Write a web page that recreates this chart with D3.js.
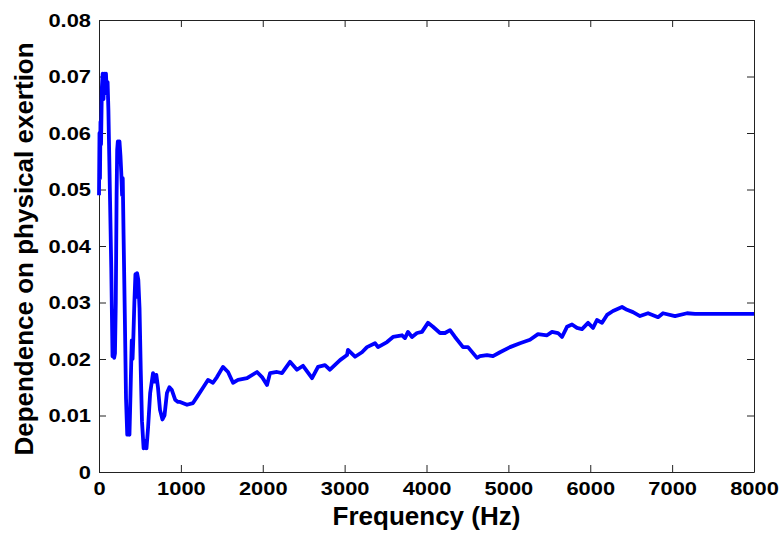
<!DOCTYPE html>
<html>
<head>
<meta charset="utf-8">
<script src="https://cdn.jsdelivr.net/npm/d3@7"></script>
<style>
  body { margin: 0; background: #fff; }
  .axis path, .axis line { stroke: #222; }
  .axis text { font-family: "Liberation Sans", Arial, sans-serif; font-weight: bold; font-size: 19px; fill: #000; }
  .label { font-family: "Liberation Sans", Arial, sans-serif; font-weight: bold; font-size: 26px; fill: #000; }
</style>
</head>
<body>
<script>
//frequency values (Hz)
var freq = [0, 6, 12, 18, 25, 35, 45, 55, 65, 75, 85, 95, 105, 115, 125, 135, 150, 165, 175, 185,
    195, 205, 215, 222, 230, 240, 250, 262, 272, 282, 290, 300, 315, 330, 345, 360, 372, 385, 400, 410,
    420, 432, 445, 455, 465, 480, 495, 510, 525, 545, 560, 580, 600, 625, 660, 680, 700, 720, 745, 775,
    800, 830, 860, 890, 930, 965,
    990, 1075, 1148, 1197, 1270, 1331, 1392, 1441, 1514, 1576, 1637, 1698, 1808, 1930, 1991, 2052, 2089, 2174, 2235, 2333,
    2418, 2492, 2602, 2675, 2760, 2821, 2944, 3029, 3041, 3127, 3212, 3273, 3371, 3408, 3518, 3591, 3701, 3737, 3774, 3823,
    3884, 3945, 4018, 4079, 4165, 4226, 4287, 4348, 4446, 4507, 4617, 4653, 4739, 4812, 4898, 5020, 5142, 5264, 5362, 5472,
    5533, 5606, 5655, 5716, 5777, 5838, 5899, 5973, 6034, 6082, 6144, 6205, 6278, 6388, 6449, 6522, 6608, 6706, 6828, 6889,
    7035, 7182, 7280, 8000];

//dependence on physical exertion
var dep = [0.049, 0.060, 0.052, 0.062, 0.058, 0.068, 0.0705, 0.066, 0.0705, 0.069, 0.0705, 0.067, 0.069, 0.064, 0.056, 0.048, 0.036, 0.0205, 0.0215, 0.0202,
    0.021, 0.030, 0.049, 0.057, 0.0585, 0.055, 0.0585, 0.056, 0.053, 0.049, 0.052, 0.042, 0.028, 0.013, 0.0066, 0.0075, 0.0066, 0.014, 0.0233, 0.020,
    0.024, 0.030, 0.035, 0.031, 0.0352, 0.034, 0.029, 0.018, 0.009, 0.0042, 0.0055, 0.0042, 0.008, 0.014, 0.0175, 0.0160, 0.0172, 0.0150, 0.011, 0.0093,
    0.0100, 0.0140, 0.0150, 0.0145, 0.0128, 0.0124,
    0.0124, 0.0119, 0.0122, 0.0133, 0.0149, 0.0163, 0.0158, 0.0168, 0.0186, 0.0177, 0.0158, 0.0163, 0.0166, 0.0177, 0.0168, 0.0154, 0.0175, 0.0177, 0.0175, 0.0195,
    0.0181, 0.0188, 0.0166, 0.0186, 0.0189, 0.0181, 0.0198, 0.0207, 0.0216, 0.0204, 0.0212, 0.0221, 0.0228, 0.0221, 0.0230, 0.0239, 0.0242, 0.0237, 0.0248, 0.0239,
    0.0246, 0.0248, 0.0264, 0.0257, 0.0246, 0.0246, 0.0251, 0.0239, 0.0221, 0.0221, 0.0202, 0.0205, 0.0207, 0.0205, 0.0212, 0.0221, 0.0228, 0.0234, 0.0244, 0.0242,
    0.0248, 0.0246, 0.0239, 0.0257, 0.0261, 0.0255, 0.0253, 0.0264, 0.0255, 0.0269, 0.0264, 0.0278, 0.0285, 0.0292, 0.0287, 0.0283, 0.0276, 0.0281, 0.0274, 0.0281,
    0.0276, 0.0281, 0.0280, 0.0280];

var xTicks = [0, 1000, 2000, 3000, 4000, 5000, 6000, 7000, 8000];
var yTicks = [0, 0.01, 0.02, 0.03, 0.04, 0.05, 0.06, 0.07, 0.08];

var width = 782,
    height = 533;
var margin = {top: 20, right: 28, bottom: 61, left: 99};
var w = width - margin.left - margin.right,
    h = height - margin.top - margin.bottom;

var svg = d3.select("body")
    .append("svg")
    .attr("width", width)
    .attr("height", height);

var g = svg.append("g")
    .attr("transform", "translate(" + margin.left + "," + margin.top + ")");

var x = d3.scaleLinear().domain([0, 8000]).range([0, w]);
var y = d3.scaleLinear().domain([0, 0.08]).range([h, 0]);

var fmtY = function(d){ return d === 0 ? "0" : d.toFixed(2); };

//box with inward ticks, like matlab
g.append("g")
    .attr("class", "axis")
    .attr("transform", "translate(0," + h + ")")
    .call(d3.axisBottom(x).tickValues(xTicks).tickSizeInner(-7).tickSizeOuter(0).tickPadding(10).tickFormat(d3.format("d")))
    .selectAll("text")
    .attr("transform", "scale(1.15,1)");

g.append("g")
    .attr("class", "axis")
    .call(d3.axisTop(x).tickValues(xTicks).tickSizeInner(-7).tickSizeOuter(0).tickFormat(""));

g.append("g")
    .attr("class", "axis")
    .call(d3.axisLeft(y).tickValues(yTicks).tickSizeInner(-7).tickSizeOuter(0).tickPadding(7).tickFormat(fmtY))
    .selectAll("text")
    .attr("transform", "scale(1.15,1)");

g.append("g")
    .attr("class", "axis")
    .attr("transform", "translate(" + w + ",0)")
    .call(d3.axisRight(y).tickValues(yTicks).tickSizeInner(-7).tickSizeOuter(0).tickFormat(""));

//the curve
var line = d3.line()
    .x(function(d, i){ return x(freq[i]); })
    .y(function(d){ return y(d); });

g.append("path")
    .datum(dep)
    .attr("fill", "none")
    .attr("stroke", "#0000ff")
    .attr("stroke-width", 3.8)
    .attr("stroke-linejoin", "round")
    .attr("d", line);

//axis labels
svg.append("text")
    .attr("class", "label")
    .attr("text-anchor", "middle")
    .attr("x", margin.left + w / 2)
    .attr("y", 525)
    .text("Frequency (Hz)");

svg.append("text")
    .attr("class", "label")
    .attr("text-anchor", "middle")
    .attr("transform", "translate(33," + (margin.top + h / 2 + 3) + ") rotate(-90)")
    .text("Dependence on physical exertion");
</script>
</body>
</html>
